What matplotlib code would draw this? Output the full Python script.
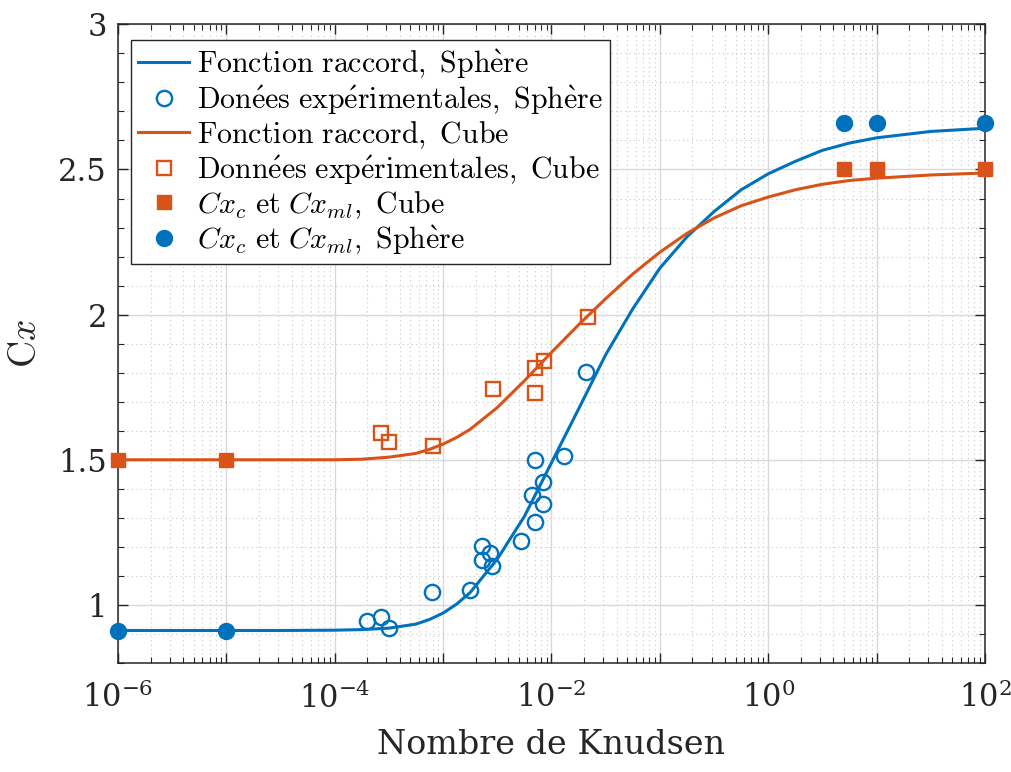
import numpy as np
import matplotlib.pyplot as plt
from matplotlib.ticker import MultipleLocator, LogLocator, FuncFormatter, NullFormatter

kn_exp_sphere = [2.0e-4, 2.7e-4, 3.2e-4, 7.9e-4, 1.78e-3, 2.3e-3, 2.3e-3, 2.7e-3, 2.8e-3,
                 5.2e-3, 6.6e-3, 7.0e-3, 7.0e-3, 8.4e-3, 8.4e-3, 1.3e-2, 2.1e-2]
cx_exp_sphere = [0.945, 0.959, 0.921, 1.045, 1.052, 1.203, 1.155, 1.179, 1.134,
                 1.221, 1.379, 1.286, 1.50, 1.424, 1.348, 1.514, 1.803]

kn_exp_cube = [2.7e-4, 3.2e-4, 8.1e-4, 2.9e-3, 7.1e-3, 8.5e-3, 7.1e-3, 2.15e-2]
cx_exp_cube = [1.592, 1.560, 1.548, 1.744, 1.816, 1.841, 1.730, 1.992]

# limits continuum / free molecular
kn_lim = [1e-6, 1e-5, 5, 10, 100]
cx_lim_sphere = [0.91, 0.91, 2.66, 2.66, 2.66]
cx_lim_cube = [1.5, 1.5, 2.5, 2.5, 2.5]

# bridging curves (log10 Kn, Cx)
logkn_fit = [-6, -5, -4.5, -4, -3.75, -3.5, -3.25, -3.125, -3, -2.875, -2.75, -2.5, -2.25,
             -2, -1.75, -1.5, -1.25, -1, -0.75, -0.5, -0.25, 0, 0.25, 0.5, 0.75, 1, 1.5, 2]
cx_fit_sphere = [0.912, 0.912, 0.912, 0.913, 0.915, 0.920, 0.934, 0.950, 0.972, 1.003,
                 1.043, 1.158, 1.305, 1.490, 1.675, 1.862, 2.020, 2.160, 2.268, 2.355,
                 2.430, 2.485, 2.528, 2.566, 2.591, 2.609, 2.631, 2.642]
cx_fit_cube = [1.5, 1.5, 1.5, 1.500, 1.502, 1.509, 1.522, 1.536, 1.554, 1.577,
               1.605, 1.680, 1.772, 1.870, 1.965, 2.055, 2.140, 2.215, 2.280, 2.333,
               2.375, 2.405, 2.430, 2.449, 2.462, 2.470, 2.481, 2.488]

blue = '#0072BD'
orange = '#D95319'

plt.rcParams['font.family'] = ['DejaVu Serif']
plt.rcParams['mathtext.fontset'] = 'cm'

fig = plt.figure(figsize=(10.12, 7.72), dpi=100)
ax = fig.add_axes([0.1166, 0.1412, 0.8567, 0.8273])

kn_fit = 10 ** np.array(logkn_fit)
ax.plot(kn_fit, cx_fit_sphere, color=blue, lw=2.2,
        label=r'$\mathrm{Fonction\ raccord,\ Sph\grave{e}re}$')
ax.plot(kn_exp_sphere, cx_exp_sphere, 'o', ms=11, mfc='none', mec=blue, mew=1.7,
        label=r'$\mathrm{Don\acute{e}es\ exp\acute{e}rimentales,\ Sph\grave{e}re}$')
ax.plot(kn_fit, cx_fit_cube, color=orange, lw=2.2,
        label=r'$\mathrm{Fonction\ raccord,\ Cube}$')
ax.plot(kn_exp_cube, cx_exp_cube, 's', ms=9.5, mfc='none', mec=orange, mew=1.7,
        label=r'$\mathrm{Donn\acute{e}es\ exp\acute{e}rimentales,\ Cube}$')
ax.plot(kn_lim, cx_lim_cube, 's', ms=10, color=orange, clip_on=False, zorder=5,
        label=r'$Cx_c\ \mathrm{et}\ Cx_{ml}\mathrm{,\ Cube}$')
ax.plot(kn_lim, cx_lim_sphere, 'o', ms=11.5, color=blue, clip_on=False, zorder=5,
        label=r'$Cx_c\ \mathrm{et}\ Cx_{ml}\mathrm{,\ Sph\grave{e}re}$')

ax.set_xscale('log')
ax.set_xlim(1e-6, 1e2)
ax.set_ylim(0.8, 3)
ax.xaxis.set_major_locator(LogLocator(base=10, numticks=10, subs=(1.0,)))
ax.xaxis.set_major_formatter(FuncFormatter(
    lambda v, p: r'$\mathdefault{10^{%d}}$' % round(np.log10(v)) if round(np.log10(v)) % 2 == 0 else ''))
ax.xaxis.set_minor_locator(LogLocator(base=10, subs=np.arange(2, 10), numticks=20))
ax.xaxis.set_minor_formatter(NullFormatter())
ax.yaxis.set_major_locator(MultipleLocator(0.5))
ax.yaxis.set_minor_locator(MultipleLocator(0.1))
ax.yaxis.set_major_formatter(FuncFormatter(lambda v, p: ('%g' % v)))

ax.tick_params(which='both', direction='in', top=True, right=True, colors='#262626',
               labelsize=22, labelcolor='#262626')
ax.tick_params(which='major', length=7, width=1)
ax.tick_params(which='minor', length=4, width=0.8)
ax.tick_params(axis='x', pad=14)
ax.tick_params(axis='y', pad=8)
for s in ax.spines.values():
    s.set_color('#262626')
    s.set_linewidth(1.1)

ax.grid(which='major', color='#d9d9d9', lw=1, ls='-')
ax.grid(which='minor', color='#c8c8c8', lw=0.8, ls=(0, (1, 3)))
ax.set_axisbelow(True)

ax.set_xlabel('Nombre de Knudsen', fontsize=24, color='#262626', labelpad=10)
ax.set_ylabel(r'$\mathrm{C}x$', fontsize=27, color='#262626', labelpad=10)

leg = ax.legend(loc='upper left', bbox_to_anchor=(0.015, 0.976), borderaxespad=0,
                prop={'size': 21.5, 'math_fontfamily': 'cm'}, fancybox=False, framealpha=1,
                edgecolor='#262626', handlelength=1.7, handletextpad=0.25,
                labelspacing=0.08, borderpad=0.25)
leg.get_frame().set_linewidth(1)

fig.savefig('out.png', dpi=100)
